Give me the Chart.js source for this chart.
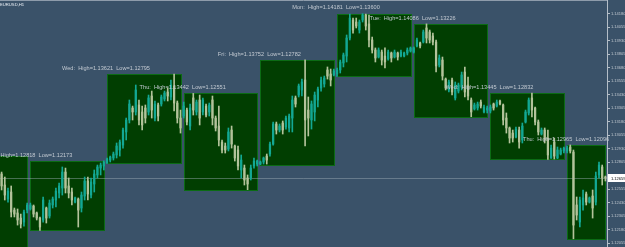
<!DOCTYPE html>
<html>
<head>
<meta charset="utf-8">
<script src="https://cdn.jsdelivr.net/npm/chart.js@4.4.0/dist/chart.umd.min.js"></script>
<style>
  html, body { margin: 0; padding: 0; background: #3a5269; overflow: hidden; }
  #wrap { width: 625px; height: 247px; }
</style>
</head>
<body>
<div id="wrap"><canvas id="chart" width="625" height="247"></canvas></div>
<script>
const symbolTitle = 'EURUSD,H1';

// H1 bars, oldest first
const opens = [
  1.12696, 1.12594, 1.12464, 1.12529, 1.12362, 1.12335, 1.12288, 1.12251, 1.12362,
  1.12372, 1.12399, 1.12335, 1.12288, 1.12270, 1.12381, 1.12307, 1.12409, 1.12455, 1.12520, 1.12566, 1.12714,
  1.12585, 1.12529, 1.12436, 1.12464, 1.12381, 1.12492, 1.12631, 1.12501, 1.12603, 1.12687, 1.12751, 1.12770,
  1.12798, 1.12825, 1.12844, 1.12872, 1.12918, 1.12964, 1.13085, 1.13196, 1.13307, 1.13270, 1.13335, 1.13270,
  1.13307, 1.13270, 1.13418, 1.13214, 1.13335, 1.13344, 1.13390, 1.13455, 1.13409, 1.13511, 1.13353, 1.13214,
  1.13233, 1.13288, 1.13140, 1.13400, 1.13270, 1.13381, 1.13270, 1.13325, 1.13270, 1.13381, 1.13214, 1.13140,
  1.12992, 1.12955, 1.12927, 1.13103, 1.12955, 1.12918, 1.12733, 1.12751, 1.12659, 1.12659, 1.12770, 1.12788,
  1.12788, 1.12807, 1.12862, 1.12881, 1.12973, 1.13159, 1.13103, 1.13168, 1.13131, 1.13122, 1.13214, 1.13400,
  1.13427, 1.13474, 1.13566, 1.13288, 1.13196, 1.13270, 1.13381, 1.13492, 1.13529, 1.13659, 1.13622, 1.13613,
  1.13622, 1.13659, 1.13724, 1.13788, 1.13955, 1.14122, 1.14103, 1.14029, 1.14122, 1.14168, 1.14085, 1.13937,
  1.13844, 1.13779, 1.13825, 1.13788, 1.13761, 1.13816, 1.13779, 1.13816, 1.13788, 1.13788, 1.13816, 1.13835,
  1.13825, 1.13881, 1.13909, 1.13918, 1.14048, 1.14011, 1.13974, 1.13918, 1.13705, 1.13751, 1.13575, 1.13474,
  1.13566, 1.13400, 1.13464, 1.13501, 1.13640, 1.13520, 1.13381, 1.13298, 1.13307, 1.13362, 1.13270, 1.13288,
  1.13279, 1.13344, 1.13325, 1.13372, 1.13335, 1.13214, 1.13122, 1.13075, 1.13038, 1.13103, 1.13011, 1.13177,
  1.13261, 1.13400, 1.13307, 1.13177, 1.13066, 1.13103, 1.13029, 1.12844, 1.12992, 1.12844, 1.12881, 1.12909,
  1.12909, 1.12946, 1.12899, 1.12409, 1.12251, 1.12409, 1.12511, 1.12436, 1.12492, 1.12436, 1.12687, 1.12761,
  1.12668
];
const highs = [
  1.12714, 1.12668, 1.12566, 1.12585, 1.12381, 1.12372, 1.12325, 1.12362, 1.12427,
  1.12427, 1.12409, 1.12344, 1.12298, 1.12483, 1.12390, 1.12455, 1.12483, 1.12566, 1.12612, 1.12761, 1.12751,
  1.12659, 1.12566, 1.12483, 1.12474, 1.12529, 1.12668, 1.12668, 1.12659, 1.12733, 1.12779, 1.12798, 1.12818,
  1.12844, 1.12862, 1.12899, 1.12983, 1.13011, 1.13122, 1.13214, 1.13381, 1.13325, 1.13520, 1.13381, 1.13325,
  1.13335, 1.13427, 1.13464, 1.13372, 1.13353, 1.13427, 1.13464, 1.13492, 1.13566, 1.13621, 1.13372, 1.13288,
  1.13362, 1.13307, 1.13344, 1.13442, 1.13381, 1.13427, 1.13400, 1.13344, 1.13353, 1.13418, 1.13233, 1.13325,
  1.13011, 1.12983, 1.13122, 1.13140, 1.12964, 1.12955, 1.12872, 1.12779, 1.12687, 1.12779, 1.12844, 1.12825,
  1.12816, 1.12853, 1.12881, 1.12992, 1.13177, 1.13177, 1.13159, 1.13187, 1.13233, 1.13251, 1.13418, 1.13418,
  1.13529, 1.13575, 1.13752, 1.13409, 1.13372, 1.13455, 1.13501, 1.13594, 1.13603, 1.13687, 1.13668, 1.13668,
  1.13677, 1.13751, 1.13816, 1.13983, 1.14177, 1.14140, 1.14140, 1.14122, 1.14181, 1.14177, 1.14168, 1.13964,
  1.13863, 1.13863, 1.13844, 1.13863, 1.13844, 1.13825, 1.13844, 1.13825, 1.13844, 1.13825, 1.13863, 1.13872,
  1.13872, 1.13955, 1.13918, 1.14029, 1.14086, 1.14029, 1.14001, 1.13937, 1.13798, 1.13779, 1.13585, 1.13566,
  1.13585, 1.13548, 1.13538, 1.13640, 1.13687, 1.13594, 1.13400, 1.13353, 1.13362, 1.13381, 1.13335, 1.13325,
  1.13335, 1.13353, 1.13381, 1.13381, 1.13344, 1.13261, 1.13131, 1.13103, 1.13131, 1.13131, 1.13168, 1.13288,
  1.13400, 1.13445, 1.13316, 1.13196, 1.13122, 1.13122, 1.13103, 1.12964, 1.13029, 1.12946, 1.12936, 1.12946,
  1.12955, 1.12965, 1.12918, 1.12483, 1.12483, 1.12548, 1.12529, 1.12483, 1.12548, 1.12714, 1.12807, 1.12779,
  1.12677
];
const lows = [
  1.12548, 1.12455, 1.12436, 1.12298, 1.12298, 1.12223, 1.12196, 1.12214, 1.12335,
  1.12362, 1.12298, 1.12270, 1.12173, 1.12251, 1.12242, 1.12288, 1.12381, 1.12390, 1.12474, 1.12501, 1.12520,
  1.12474, 1.12409, 1.12427, 1.12205, 1.12344, 1.12455, 1.12455, 1.12474, 1.12529, 1.12659, 1.12687, 1.12733,
  1.12795, 1.12807, 1.12825, 1.12844, 1.12862, 1.12936, 1.13011, 1.13168, 1.13196, 1.13242, 1.13150, 1.13103,
  1.13168, 1.13242, 1.13214, 1.13187, 1.13187, 1.13325, 1.13372, 1.13372, 1.13381, 1.13279, 1.13168, 1.13075,
  1.13214, 1.13150, 1.13103, 1.13242, 1.13242, 1.13150, 1.13242, 1.13224, 1.13233, 1.13150, 1.13094, 1.12955,
  1.12890, 1.12890, 1.12909, 1.12936, 1.12816, 1.12733, 1.12659, 1.12594, 1.12551, 1.12640, 1.12751, 1.12770,
  1.12782, 1.12788, 1.12788, 1.12862, 1.12964, 1.13066, 1.13085, 1.13066, 1.13112, 1.13085, 1.13085, 1.13316,
  1.13409, 1.13418, 1.12955, 1.13048, 1.13112, 1.13187, 1.13316, 1.13464, 1.13501, 1.13575, 1.13511, 1.13603,
  1.13600, 1.13631, 1.13687, 1.13733, 1.13937, 1.14001, 1.14048, 1.14001, 1.14103, 1.14029, 1.13872, 1.13816,
  1.13733, 1.13770, 1.13705, 1.13677, 1.13751, 1.13733, 1.13770, 1.13751, 1.13779, 1.13779, 1.13798, 1.13825,
  1.13816, 1.13872, 1.13863, 1.13909, 1.13909, 1.13909, 1.13890, 1.13640, 1.13687, 1.13566, 1.13474, 1.13455,
  1.13427, 1.13381, 1.13446, 1.13474, 1.13409, 1.13381, 1.13226, 1.13288, 1.13288, 1.13307, 1.13261, 1.13261,
  1.13261, 1.13288, 1.13316, 1.13335, 1.13150, 1.13075, 1.12983, 1.12992, 1.13029, 1.12936, 1.12983, 1.13168,
  1.13242, 1.13224, 1.13150, 1.13057, 1.13057, 1.12983, 1.12832, 1.12840, 1.12835, 1.12838, 1.12872, 1.12890,
  1.12890, 1.12890, 1.12096, 1.12270, 1.12205, 1.12362, 1.12409, 1.12427, 1.12288, 1.12409, 1.12659, 1.12594,
  1.12631
];
const closes = [
  1.12585, 1.12501, 1.12538, 1.12344, 1.12325, 1.12270, 1.12233, 1.12344, 1.12409,
  1.12409, 1.12325, 1.12288, 1.12205, 1.12455, 1.12288, 1.12427, 1.12464, 1.12538, 1.12585, 1.12714, 1.12566,
  1.12520, 1.12455, 1.12474, 1.12362, 1.12501, 1.12631, 1.12511, 1.12622, 1.12696, 1.12761, 1.12779, 1.12807,
  1.12835, 1.12853, 1.12881, 1.12955, 1.12992, 1.13103, 1.13196, 1.13344, 1.13270, 1.13474, 1.13196, 1.13150,
  1.13214, 1.13400, 1.13288, 1.13344, 1.13233, 1.13409, 1.13446, 1.13418, 1.13520, 1.13353, 1.13214, 1.13122,
  1.13325, 1.13177, 1.13307, 1.13288, 1.13362, 1.13214, 1.13381, 1.13242, 1.13335, 1.13214, 1.13122, 1.13011,
  1.12918, 1.12918, 1.13085, 1.12973, 1.12844, 1.12770, 1.12825, 1.12640, 1.12603, 1.12751, 1.12816, 1.12816,
  1.12807, 1.12844, 1.12825, 1.12973, 1.13159, 1.13103, 1.13140, 1.13103, 1.13214, 1.13233, 1.13381, 1.13344,
  1.13511, 1.13548, 1.13196, 1.13214, 1.13344, 1.13427, 1.13483, 1.13566, 1.13585, 1.13603, 1.13566, 1.13650,
  1.13659, 1.13733, 1.13798, 1.13955, 1.14140, 1.14029, 1.14066, 1.14103, 1.14168, 1.14066, 1.13937, 1.13844,
  1.13770, 1.13844, 1.13751, 1.13733, 1.13825, 1.13770, 1.13825, 1.13779, 1.13825, 1.13816, 1.13844, 1.13863,
  1.13863, 1.13937, 1.13881, 1.14011, 1.13955, 1.13937, 1.13918, 1.13696, 1.13770, 1.13603, 1.13492, 1.13548,
  1.13455, 1.13520, 1.13520, 1.13613, 1.13455, 1.13418, 1.13270, 1.13335, 1.13344, 1.13325, 1.13316, 1.13307,
  1.13316, 1.13307, 1.13362, 1.13344, 1.13196, 1.13122, 1.13029, 1.13029, 1.13112, 1.12992, 1.13140, 1.13270,
  1.13381, 1.13288, 1.13177, 1.13085, 1.13103, 1.13011, 1.12872, 1.12936, 1.12862, 1.12918, 1.12918, 1.12936,
  1.12936, 1.12909, 1.12223, 1.12316, 1.12455, 1.12474, 1.12436, 1.12474, 1.12381, 1.12677, 1.12779, 1.12659,
  1.12659
];

// daily ranges (first bar index of each day, high, low)
const dayNames = ['Mon', 'Tue', 'Wed', 'Thu', 'Fri', 'Mon', 'Tue', 'Wed', 'Thu'];
const dayStart = [-15, 9, 33, 57, 81, 105, 129, 153, 177];
const dayHigh = [1.12862, 1.12818, 1.13621, 1.13442, 1.13752, 1.14181, 1.14086, 1.13445, 1.12965];
const dayLow = [1.11940, 1.12173, 1.12795, 1.12551, 1.12782, 1.13600, 1.13226, 1.12832, 1.12096];

const tickLabels = [
  '1.14180', '1.14055', '1.13930', '1.13805', '1.13680', '1.13555', '1.13430', '1.13305', '1.13180',
  '1.13055', '1.12930', '1.12805', '1.12680', '1.12555', '1.12430', '1.12305', '1.12180', '1.12055'
];
const yMin = 1.12020;
const yMax = 1.14307;

const BG = '#3a5269';
const BULL = '#13a894';
const BEAR = '#b3c39b';
const BOX_FILL = '#013e01';
const BOX_EDGE = '#0b6b14';
const TEXT = '#c2c9d1';

const labels = opens.map((_, i) => String(i));
const lastIndex = closes.length - 1;
const lastPrice = closes[lastIndex];
const barColors = closes.map((c, i) => (c >= opens[i] ? BULL : BEAR));

const backgroundPlugin = {
  id: 'background',
  beforeDraw(chart) {
    const { ctx, width, height } = chart;
    ctx.save();
    ctx.fillStyle = BG;
    ctx.fillRect(0, 0, width, height);
    ctx.restore();
  }
};

const dayBoxesPlugin = {
  id: 'dayBoxes',
  beforeDatasetsDraw(chart) {
    const { ctx, chartArea, scales } = chart;
    const xs = scales.x;
    const ys = scales.y;
    ctx.save();
    ctx.beginPath();
    ctx.rect(chartArea.left, chartArea.top, chartArea.right - chartArea.left, chartArea.bottom - chartArea.top);
    ctx.clip();
    dayStart.forEach((start, d) => {
      const end = Math.min(start + 23, lastIndex);
      const x1 = Math.round(xs.getPixelForValue(start)) + 0.5;
      const x2 = Math.round(xs.getPixelForValue(end)) + 0.5;
      const y1 = Math.round(ys.getPixelForValue(dayHigh[d])) + 0.5;
      const y2 = Math.round(ys.getPixelForValue(dayLow[d])) + 0.5;
      ctx.fillStyle = BOX_FILL;
      ctx.fillRect(x1, y1, x2 - x1, y2 - y1);
      ctx.strokeStyle = BOX_EDGE;
      ctx.lineWidth = 1;
      ctx.strokeRect(x1, y1, x2 - x1, y2 - y1);
    });
    // bid line
    const yb = Math.round(ys.getPixelForValue(lastPrice)) + 0.5;
    ctx.strokeStyle = 'rgba(160, 172, 184, 0.45)';
    ctx.beginPath();
    ctx.moveTo(chartArea.left, yb);
    ctx.lineTo(chartArea.right, yb);
    ctx.stroke();
    ctx.restore();
  },
  afterDatasetsDraw(chart) {
    const { ctx, scales } = chart;
    const xs = scales.x;
    const ys = scales.y;
    ctx.save();
    ctx.fillStyle = TEXT;
    ctx.font = '5.6px "Liberation Sans", Arial, sans-serif';
    ctx.textAlign = 'center';
    ctx.textBaseline = 'bottom';
    dayStart.forEach((start, d) => {
      const x = xs.getPixelForValue(start) - 1;
      const y = ys.getPixelForValue(dayHigh[d]) - 3;
      const text = dayNames[d] + ':  High=' + dayHigh[d].toFixed(5) + '  Low=' + dayLow[d].toFixed(5);
      ctx.fillText(text, x, y);
    });
    ctx.restore();
  }
};

const overlayPlugin = {
  id: 'overlay',
  afterDraw(chart) {
    const { ctx, chartArea, scales, width } = chart;
    ctx.save();
    // window top edge
    ctx.strokeStyle = '#8e9cab';
    ctx.lineWidth = 1;
    ctx.beginPath();
    ctx.moveTo(0, 0.5);
    ctx.lineTo(chartArea.right, 0.5);
    ctx.stroke();
    // symbol title
    ctx.fillStyle = '#e8eef4';
    ctx.font = '4.2px "Liberation Sans", Arial, sans-serif';
    ctx.textAlign = 'left';
    ctx.textBaseline = 'middle';
    ctx.fillText(symbolTitle, 0, 4.5);
    // current price tag
    const y = Math.round(scales.y.getPixelForValue(lastPrice));
    ctx.fillStyle = '#ffffff';
    ctx.fillRect(chartArea.right + 1, y - 4, width - chartArea.right - 1, 8);
    ctx.fillStyle = '#000000';
    ctx.font = '4px "Liberation Sans", Arial, sans-serif';
    ctx.fillText(lastPrice.toFixed(5), chartArea.right + 4, y + 0.5);
    ctx.restore();
  }
};

new Chart(document.getElementById('chart'), {
  type: 'bar',
  data: {
    labels,
    datasets: [
      {
        data: lows.map((l, i) => [l, highs[i]]),
        backgroundColor: barColors,
        barThickness: 1,
        grouped: false,
        borderWidth: 0,
        order: 2
      },
      {
        data: opens.map((o, i) => [o, closes[i]]),
        backgroundColor: barColors,
        barThickness: 1.6,
        minBarLength: 1,
        grouped: false,
        borderWidth: 0,
        order: 1
      }
    ]
  },
  options: {
    responsive: false,
    animation: false,
    events: [],
    layout: { padding: 0 },
    plugins: {
      legend: { display: false },
      tooltip: { enabled: false }
    },
    scales: {
      x: {
        display: false,
        offset: true,
        grid: { display: false }
      },
      y: {
        position: 'right',
        min: yMin,
        max: yMax,
        border: { display: true, color: '#b4bec8', width: 1 },
        grid: { drawOnChartArea: false, drawTicks: true, tickLength: 3, color: '#b4bec8' },
        ticks: {
          autoSkip: false,
          padding: 1,
          color: TEXT,
          font: { family: '"Liberation Sans", Arial, sans-serif', size: 4 },
          callback: (value, index) => tickLabels[index]
        },
        afterBuildTicks: (scale) => {
          scale.ticks = tickLabels.map((t) => ({ value: parseFloat(t) }));
        },
        afterFit: (scale) => {
          scale.width = 18;
          scale.paddingTop = 0;
          scale.paddingBottom = 0;
        }
      }
    }
  },
  plugins: [backgroundPlugin, dayBoxesPlugin, overlayPlugin]
});
</script>
</body>
</html>
